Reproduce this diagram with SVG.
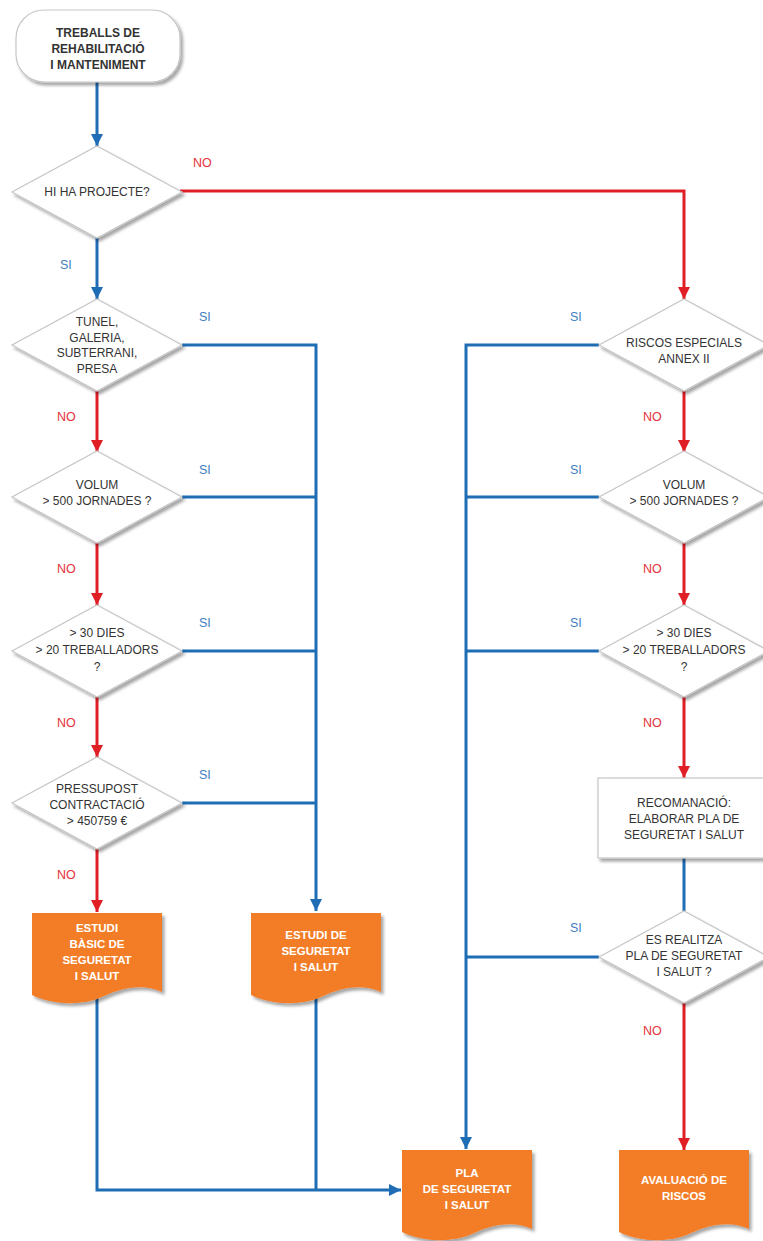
<svg xmlns="http://www.w3.org/2000/svg" xmlns:xlink="http://www.w3.org/1999/xlink" width="763" height="1241" viewBox="0 0 763 1241">
<defs>
<style>
.dia{fill:#fff;stroke:#c6c6c6;stroke-width:1.2;filter:url(#sh)}
.box{fill:#fff;stroke:#c6c6c6;stroke-width:1.2;filter:url(#sh)}
.doc{fill:#f37d27;filter:url(#sh)}
.t{font-family:"Liberation Sans",Arial,sans-serif;font-size:12px;fill:#333;text-anchor:middle}
.tb{font-family:"Liberation Sans",Arial,sans-serif;font-size:12px;font-weight:bold;fill:#333;text-anchor:middle}
.tw{font-family:"Liberation Sans",Arial,sans-serif;font-size:11.5px;font-weight:bold;fill:#fff;text-anchor:middle}
.no{font-family:"Liberation Sans",Arial,sans-serif;font-size:12.5px;fill:#e4323a}
.si{font-family:"Liberation Sans",Arial,sans-serif;font-size:12.5px;fill:#3f80c2}
.bl{fill:none;stroke:#1f6db5;stroke-width:3}
.rd{fill:none;stroke:#e01e26;stroke-width:3}
</style>
<filter id="sh" x="-10%" y="-10%" width="125%" height="130%">
<feDropShadow dx="2.5" dy="3" stdDeviation="1.8" flood-color="#000" flood-opacity="0.35"/>
</filter>
<marker id="ab" markerUnits="userSpaceOnUse" markerWidth="12" markerHeight="14" refX="12" refY="6" orient="auto">
<path d="M0,0 L12,6 L0,12 Z" fill="#1f6db5"/>
</marker>
<marker id="ar" markerUnits="userSpaceOnUse" markerWidth="12" markerHeight="14" refX="12" refY="6" orient="auto">
<path d="M0,0 L12,6 L0,12 Z" fill="#e01e26"/>
</marker>
<path id="docshape" d="M0,0 H130 V79 C115,72 95,72 70,84 C50,93 20,92 0,82 Z"/>
<polygon id="diam" points="0,-46 85,0 0,46 -85,0"/>
</defs>

<g id="connectors">
<path class="bl" d="M97,82 V146" marker-end="url(#ab)"/>
<path class="bl" d="M97,238 V299" marker-end="url(#ab)"/>
<path class="bl" d="M182,345 H316 V911" marker-end="url(#ab)"/>
<path class="bl" d="M182,497 H316"/>
<path class="bl" d="M182,651 H316"/>
<path class="bl" d="M182,803 H316"/>
<path class="bl" d="M97,995 V1190 H401" marker-end="url(#ab)"/>
<path class="bl" d="M316,995 V1189"/>
<path class="bl" d="M599,345 H466 V1149" marker-end="url(#ab)"/>
<path class="bl" d="M599,497 H466"/>
<path class="bl" d="M599,651 H466"/>
<path class="bl" d="M599,957 H466"/>
<path class="bl" d="M684,858 V911"/>
<path class="rd" d="M180,191 H684 V299" marker-end="url(#ar)"/>
<path class="rd" d="M97,391 V452" marker-end="url(#ar)"/>
<path class="rd" d="M97,543 V605" marker-end="url(#ar)"/>
<path class="rd" d="M97,697 V757" marker-end="url(#ar)"/>
<path class="rd" d="M97,849 V912" marker-end="url(#ar)"/>
<path class="rd" d="M684,391 V452" marker-end="url(#ar)"/>
<path class="rd" d="M684,543 V605" marker-end="url(#ar)"/>
<path class="rd" d="M684,697 V778" marker-end="url(#ar)"/>
<path class="rd" d="M684,1003 V1150" marker-end="url(#ar)"/>
</g>

<g id="labels">
<text class="no" x="193" y="167">NO</text>
<text class="si" x="60" y="269">SI</text>
<text class="si" x="199" y="321">SI</text>
<text class="si" x="199" y="474">SI</text>
<text class="si" x="199" y="627">SI</text>
<text class="si" x="199" y="779">SI</text>
<text class="no" x="57" y="421">NO</text>
<text class="no" x="57" y="573">NO</text>
<text class="no" x="57" y="727">NO</text>
<text class="no" x="57" y="879">NO</text>
<text class="si" x="570" y="321">SI</text>
<text class="si" x="570" y="474">SI</text>
<text class="si" x="570" y="627">SI</text>
<text class="si" x="570" y="932">SI</text>
<text class="no" x="643" y="421">NO</text>
<text class="no" x="643" y="573">NO</text>
<text class="no" x="643" y="727">NO</text>
<text class="no" x="643" y="1035">NO</text>
</g>

<g id="start">
<rect class="box" x="16" y="10" width="164" height="72" rx="28"/>
<text class="tb" x="98" y="37">TREBALLS DE</text>
<text class="tb" x="98" y="53">REHABILITACIÓ</text>
<text class="tb" x="98" y="69">I MANTENIMENT</text>
</g>

<g id="d-projecte">
<use href="#diam" class="dia" x="97" y="192"/>
<text class="t" x="97" y="196">HI HA PROJECTE?</text>
</g>

<g id="d-tunel">
<use href="#diam" class="dia" x="97" y="345"/>
<text class="t" x="97" y="326">TUNEL,</text>
<text class="t" x="97" y="342">GALERIA,</text>
<text class="t" x="97" y="357">SUBTERRANI,</text>
<text class="t" x="97" y="373">PRESA</text>
</g>

<g id="d-volum-l">
<use href="#diam" class="dia" x="97" y="497"/>
<text class="t" x="97" y="489">VOLUM</text>
<text class="t" x="97" y="505">&gt; 500 JORNADES ?</text>
</g>

<g id="d-dies-l">
<use href="#diam" class="dia" x="97" y="651"/>
<text class="t" x="97" y="637">&gt; 30 DIES</text>
<text class="t" x="97" y="654">&gt; 20 TREBALLADORS</text>
<text class="t" x="97" y="671">?</text>
</g>

<g id="d-pressupost">
<use href="#diam" class="dia" x="97" y="803"/>
<text class="t" x="97" y="793">PRESSUPOST</text>
<text class="t" x="97" y="809">CONTRACTACIÓ</text>
<text class="t" x="97" y="825">&gt; 450759 €</text>
</g>

<g id="doc-basic">
<use href="#docshape" class="doc" x="32" y="913"/>
<text class="tw" x="97" y="932">ESTUDI</text>
<text class="tw" x="97" y="948">BÀSIC DE</text>
<text class="tw" x="97" y="964">SEGURETAT</text>
<text class="tw" x="97" y="980">I SALUT</text>
</g>

<g id="doc-estudi">
<use href="#docshape" class="doc" x="251" y="913"/>
<text class="tw" x="316" y="939">ESTUDI DE</text>
<text class="tw" x="316" y="955">SEGURETAT</text>
<text class="tw" x="316" y="971">I SALUT</text>
</g>

<g id="d-riscos">
<use href="#diam" class="dia" x="684" y="345"/>
<text class="t" x="684" y="347">RISCOS ESPECIALS</text>
<text class="t" x="684" y="363">ANNEX II</text>
</g>

<g id="d-volum-r">
<use href="#diam" class="dia" x="684" y="497"/>
<text class="t" x="684" y="489">VOLUM</text>
<text class="t" x="684" y="505">&gt; 500 JORNADES ?</text>
</g>

<g id="d-dies-r">
<use href="#diam" class="dia" x="684" y="651"/>
<text class="t" x="684" y="637">&gt; 30 DIES</text>
<text class="t" x="684" y="654">&gt; 20 TREBALLADORS</text>
<text class="t" x="684" y="671">?</text>
</g>

<g id="recomanacio">
<rect class="box" x="598" y="778" width="172" height="80"/>
<text class="t" x="684" y="807">RECOMANACIÓ:</text>
<text class="t" x="684" y="823">ELABORAR PLA DE</text>
<text class="t" x="684" y="839">SEGURETAT I SALUT</text>
</g>

<g id="d-realitza">
<use href="#diam" class="dia" x="684" y="957"/>
<text class="t" x="684" y="944">ES REALITZA</text>
<text class="t" x="684" y="960">PLA DE SEGURETAT</text>
<text class="t" x="684" y="976">I SALUT ?</text>
</g>

<g id="doc-pla">
<use href="#docshape" class="doc" x="402" y="1150"/>
<text class="tw" x="467" y="1177">PLA</text>
<text class="tw" x="467" y="1193">DE SEGURETAT</text>
<text class="tw" x="467" y="1209">I SALUT</text>
</g>

<g id="doc-avaluacio">
<use href="#docshape" class="doc" x="619" y="1150"/>
<text class="tw" x="684" y="1184">AVALUACIÓ DE</text>
<text class="tw" x="684" y="1200">RISCOS</text>
</g>
</svg>
